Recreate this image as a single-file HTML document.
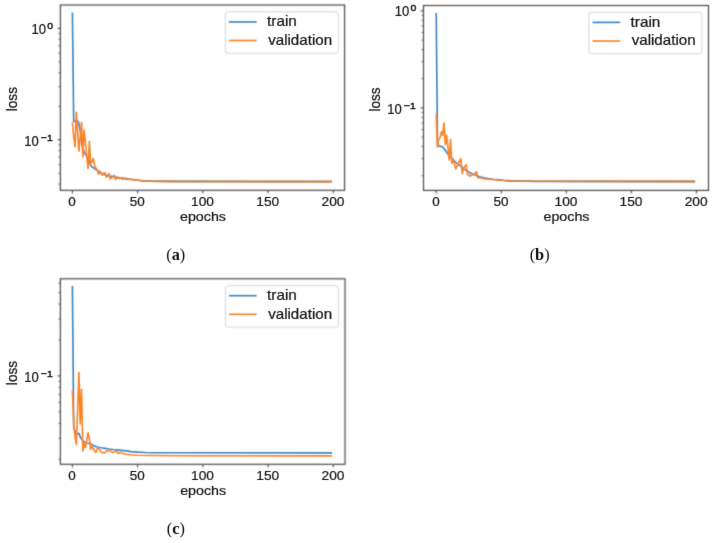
<!DOCTYPE html>
<html><head><meta charset="utf-8"><title>Loss curves</title><style>html,body{margin:0;padding:0;background:#fff;}body{width:714px;height:543px;position:relative;overflow:hidden;font-family:"Liberation Sans", sans-serif;}</style></head><body>
<svg width="714" height="543" viewBox="0 0 714 543" style="position:absolute;left:0;top:0" font-family='"Liberation Sans", sans-serif' fill="#1a1a1a"><style>text{stroke:#1a1a1a;stroke-width:0.24px;}</style><defs><filter id="bl" x="0" y="0" width="714" height="543" filterUnits="userSpaceOnUse"><feConvolveMatrix order="3" kernelMatrix="0.0400 0.1200 0.0400 0.1200 0.3600 0.1200 0.0400 0.1200 0.0400" edgeMode="none" preserveAlpha="false"/></filter><filter id="bc" x="0" y="0" width="714" height="543" filterUnits="userSpaceOnUse"><feConvolveMatrix order="3" kernelMatrix="0.0196 0.1008 0.0196 0.1008 0.5184 0.1008 0.0196 0.1008 0.0196" edgeMode="none" preserveAlpha="false"/></filter><filter id="bt" x="0" y="0" width="714" height="543" filterUnits="userSpaceOnUse"><feConvolveMatrix order="3" kernelMatrix="0.0036 0.0528 0.0036 0.0528 0.7744 0.0528 0.0036 0.0528 0.0036" edgeMode="none" preserveAlpha="false"/></filter></defs><g filter="url(#bc)"><clipPath id="clip60_5"><rect x="60.4" y="5" width="284.2" height="185.3"/></clipPath><g clip-path="url(#clip60_5)"><polyline points="72.4,12.6 73.7,121.6 75.01,121.2 76.31,120.7 77.62,120.6 78.92,123.5 80.23,131 81.53,141 82.84,148 84.14,151.8 85.45,154.5 86.75,156.2 88.05,158.5 89.36,162.5 90.66,165.5 91.97,167 93.27,167.6 94.58,168.6 95.88,169.5 97.19,170.3 98.49,171.2 101.1,172.8 103.71,174.2 106.32,175.2 108.93,175.9 111.53,176.4 114.14,176.9 118.06,177.5 124.58,178.4 131.1,179.4 136.32,180 142.84,180.8 150.67,181.1 163.72,181.3 176.76,181.4 332,181.5" fill="none" stroke="#3a86c3" stroke-width="1.65" stroke-linejoin="round" stroke-linecap="butt"/><polyline points="72.4,122.4 73.7,137 75.01,146.8 76.31,112.3 77.62,132 78.92,151.1 80.23,137 81.53,122.4 82.84,156.8 84.14,130 85.45,143 86.75,156 88.05,168.4 89.36,141.6 90.66,163.8 91.97,161.5 93.27,158.4 94.58,166 95.88,168 97.19,169.7 98.49,174.1 99.79,171.2 101.1,173.5 102.4,175.2 103.71,174 105.01,172.6 106.32,177.4 107.62,175.5 108.93,173.7 110.23,178.9 111.53,177.5 112.84,176.6 114.14,175.2 115.45,179.3 116.75,178.4 118.06,178 119.36,178.6 120.67,177.8 121.97,179.2 123.28,178.5 124.58,179 127.19,179.4 129.8,179 132.41,179.8 135.02,180.2 137.62,180.3 142.84,180.9 150.67,181.2 163.72,181.4 176.76,181.5 332,181.6" fill="none" stroke="#fa8425" stroke-width="1.65" stroke-linejoin="round" stroke-linecap="butt"/><polyline points="141.54,180.75 142.84,180.9 150.67,181.2 163.72,181.4 176.76,181.5 332,181.6" fill="none" stroke="#c38851" stroke-width="1.65" stroke-linejoin="round" stroke-linecap="butt"/></g><clipPath id="clip423_5"><rect x="423.5" y="5.5" width="285" height="184.9"/></clipPath><g clip-path="url(#clip423_5)"><polyline points="436.2,13 437.5,144.5 438.8,145.3 440.1,146.5 441.4,146.3 442.7,147 444.01,148.4 445.31,150.2 446.61,152.2 447.91,154.2 449.21,155.9 450.51,157.3 451.81,158.5 453.11,159.7 454.41,161 455.71,162.3 457.02,163.4 458.32,164.3 459.62,165.2 460.92,166.1 463.52,168.6 466.12,170.4 468.72,172 471.33,173.4 473.93,174.6 476.53,175.6 479.13,176.5 481.74,177.2 485.64,178 489.54,178.7 493.44,179.2 498.65,179.7 503.85,180.2 511.66,180.7 519.46,181 533.77,181.4 695.1,181.6" fill="none" stroke="#3a86c3" stroke-width="1.65" stroke-linejoin="round" stroke-linecap="butt"/><polyline points="436.2,114.2 437.5,147.2 438.8,139.2 440.1,137.5 441.4,131.8 442.7,135.3 444.01,123 445.31,144.6 446.61,135.3 447.91,147.5 449.21,160 450.51,139.6 451.81,163.3 453.11,158.7 454.41,163.8 455.71,168.8 457.02,166 458.32,163.5 459.62,161 460.92,158.7 462.22,173.4 463.52,169 464.82,166.2 466.12,164.8 467.42,174.5 468.72,175 470.03,176 471.33,175.4 472.63,174.8 473.93,173.8 475.23,172.8 476.53,171.8 477.83,177.7 479.13,177.5 481.74,178.3 485.64,179 489.54,179.3 494.75,179.8 499.95,180.3 505.15,180.7 511.66,180.9 519.46,181.1 533.77,181.3 695.1,181.4" fill="none" stroke="#fa8425" stroke-width="1.65" stroke-linejoin="round" stroke-linecap="butt"/><polyline points="505.15,180.7 511.66,180.9 519.46,181.1 533.77,181.3 695.1,181.4" fill="none" stroke="#c38851" stroke-width="1.65" stroke-linejoin="round" stroke-linecap="butt"/></g><clipPath id="clip60_278"><rect x="60.4" y="278.8" width="284.6" height="185.5"/></clipPath><g clip-path="url(#clip60_278)"><polyline points="72.4,285.9 73.7,427 75.01,431.5 76.31,434 77.62,434 78.92,433.3 80.23,437 81.53,439 82.84,440.6 84.14,441.9 85.45,442.5 86.75,443 88.05,443.3 89.36,443.6 90.66,443.9 91.97,444.6 93.27,445.5 94.58,446.1 97.19,447 101.1,447.8 105.01,448.4 108.93,449 112.84,449.5 119.36,450.1 125.88,450.9 131.1,451.6 137.62,452.1 145.45,452.5 153.28,452.7 332,452.9" fill="none" stroke="#3a86c3" stroke-width="1.65" stroke-linejoin="round" stroke-linecap="butt"/><polyline points="72.4,390.3 73.7,424 75.01,436 76.31,444.5 77.62,410 78.92,372.6 80.23,424 81.53,389.4 82.84,451 84.14,443.5 85.45,447.5 86.75,440 88.05,432.8 89.36,438.5 90.66,449.5 91.97,446.5 93.27,448.5 94.58,451 95.88,452.4 97.19,449 98.49,447.9 99.79,449.8 101.1,451.6 102.4,452.6 103.71,453 105.01,452.4 106.32,451.3 107.62,450.5 108.93,450.4 110.23,451 111.53,451.8 112.84,452.5 114.14,452 116.75,451.3 118.06,453.2 119.36,452.8 120.67,452.4 121.97,453 125.88,454.2 131.1,454.8 137.62,455.2 150.67,455.5 176.76,455.7 332,455.8" fill="none" stroke="#fa8425" stroke-width="1.65" stroke-linejoin="round" stroke-linecap="butt"/></g></g><g filter="url(#bl)"><line x1="58.5" y1="184.13" x2="60.4" y2="184.13" stroke="#383838" stroke-width="0.75"/><line x1="58.5" y1="173.33" x2="60.4" y2="173.33" stroke="#383838" stroke-width="0.75"/><line x1="58.5" y1="164.51" x2="60.4" y2="164.51" stroke="#383838" stroke-width="0.75"/><line x1="58.5" y1="157.06" x2="60.4" y2="157.06" stroke="#383838" stroke-width="0.75"/><line x1="58.5" y1="150.6" x2="60.4" y2="150.6" stroke="#383838" stroke-width="0.75"/><line x1="58.5" y1="144.9" x2="60.4" y2="144.9" stroke="#383838" stroke-width="0.75"/><line x1="58.5" y1="106.27" x2="60.4" y2="106.27" stroke="#383838" stroke-width="0.75"/><line x1="58.5" y1="86.65" x2="60.4" y2="86.65" stroke="#383838" stroke-width="0.75"/><line x1="58.5" y1="72.73" x2="60.4" y2="72.73" stroke="#383838" stroke-width="0.75"/><line x1="58.5" y1="61.93" x2="60.4" y2="61.93" stroke="#383838" stroke-width="0.75"/><line x1="58.5" y1="53.11" x2="60.4" y2="53.11" stroke="#383838" stroke-width="0.75"/><line x1="58.5" y1="45.66" x2="60.4" y2="45.66" stroke="#383838" stroke-width="0.75"/><line x1="58.5" y1="39.2" x2="60.4" y2="39.2" stroke="#383838" stroke-width="0.75"/><line x1="58.5" y1="33.5" x2="60.4" y2="33.5" stroke="#383838" stroke-width="0.75"/><line x1="57.5" y1="139.8" x2="60.4" y2="139.8" stroke="#383838" stroke-width="1"/><line x1="57.5" y1="28.4" x2="60.4" y2="28.4" stroke="#383838" stroke-width="1"/><line x1="72.4" y1="190.3" x2="72.4" y2="193.4" stroke="#383838" stroke-width="1"/><line x1="137.62" y1="190.3" x2="137.62" y2="193.4" stroke="#383838" stroke-width="1"/><line x1="202.85" y1="190.3" x2="202.85" y2="193.4" stroke="#383838" stroke-width="1"/><line x1="268.08" y1="190.3" x2="268.08" y2="193.4" stroke="#383838" stroke-width="1"/><line x1="333.3" y1="190.3" x2="333.3" y2="193.4" stroke="#383838" stroke-width="1"/><rect x="225.4" y="11.8" width="113" height="41.5" rx="2.5" ry="2.5" fill="#fff" stroke="#d4d4d4" stroke-width="1"/><rect x="60.4" y="5" width="284.2" height="185.3" fill="none" stroke="#383838" stroke-width="1.1"/><line x1="421.6" y1="175.75" x2="423.5" y2="175.75" stroke="#383838" stroke-width="0.75"/><line x1="421.6" y1="158.67" x2="423.5" y2="158.67" stroke="#383838" stroke-width="0.75"/><line x1="421.6" y1="146.55" x2="423.5" y2="146.55" stroke="#383838" stroke-width="0.75"/><line x1="421.6" y1="137.15" x2="423.5" y2="137.15" stroke="#383838" stroke-width="0.75"/><line x1="421.6" y1="129.47" x2="423.5" y2="129.47" stroke="#383838" stroke-width="0.75"/><line x1="421.6" y1="122.98" x2="423.5" y2="122.98" stroke="#383838" stroke-width="0.75"/><line x1="421.6" y1="117.35" x2="423.5" y2="117.35" stroke="#383838" stroke-width="0.75"/><line x1="421.6" y1="112.39" x2="423.5" y2="112.39" stroke="#383838" stroke-width="0.75"/><line x1="421.6" y1="78.75" x2="423.5" y2="78.75" stroke="#383838" stroke-width="0.75"/><line x1="421.6" y1="61.67" x2="423.5" y2="61.67" stroke="#383838" stroke-width="0.75"/><line x1="421.6" y1="49.55" x2="423.5" y2="49.55" stroke="#383838" stroke-width="0.75"/><line x1="421.6" y1="40.15" x2="423.5" y2="40.15" stroke="#383838" stroke-width="0.75"/><line x1="421.6" y1="32.47" x2="423.5" y2="32.47" stroke="#383838" stroke-width="0.75"/><line x1="421.6" y1="25.98" x2="423.5" y2="25.98" stroke="#383838" stroke-width="0.75"/><line x1="421.6" y1="20.35" x2="423.5" y2="20.35" stroke="#383838" stroke-width="0.75"/><line x1="421.6" y1="15.39" x2="423.5" y2="15.39" stroke="#383838" stroke-width="0.75"/><line x1="420.6" y1="107.95" x2="423.5" y2="107.95" stroke="#383838" stroke-width="1"/><line x1="420.6" y1="10.95" x2="423.5" y2="10.95" stroke="#383838" stroke-width="1"/><line x1="436.2" y1="190.4" x2="436.2" y2="193.5" stroke="#383838" stroke-width="1"/><line x1="501.25" y1="190.4" x2="501.25" y2="193.5" stroke="#383838" stroke-width="1"/><line x1="566.3" y1="190.4" x2="566.3" y2="193.5" stroke="#383838" stroke-width="1"/><line x1="631.35" y1="190.4" x2="631.35" y2="193.5" stroke="#383838" stroke-width="1"/><line x1="696.4" y1="190.4" x2="696.4" y2="193.5" stroke="#383838" stroke-width="1"/><rect x="588.9" y="12.3" width="113" height="41.5" rx="2.5" ry="2.5" fill="#fff" stroke="#d4d4d4" stroke-width="1"/><rect x="423.5" y="5.5" width="285" height="184.9" fill="none" stroke="#383838" stroke-width="1.1"/><line x1="58.5" y1="459.27" x2="60.4" y2="459.27" stroke="#383838" stroke-width="0.75"/><line x1="58.5" y1="438.27" x2="60.4" y2="438.27" stroke="#383838" stroke-width="0.75"/><line x1="58.5" y1="423.37" x2="60.4" y2="423.37" stroke="#383838" stroke-width="0.75"/><line x1="58.5" y1="411.81" x2="60.4" y2="411.81" stroke="#383838" stroke-width="0.75"/><line x1="58.5" y1="402.37" x2="60.4" y2="402.37" stroke="#383838" stroke-width="0.75"/><line x1="58.5" y1="394.38" x2="60.4" y2="394.38" stroke="#383838" stroke-width="0.75"/><line x1="58.5" y1="387.47" x2="60.4" y2="387.47" stroke="#383838" stroke-width="0.75"/><line x1="58.5" y1="381.37" x2="60.4" y2="381.37" stroke="#383838" stroke-width="0.75"/><line x1="58.5" y1="340.01" x2="60.4" y2="340.01" stroke="#383838" stroke-width="0.75"/><line x1="58.5" y1="319.01" x2="60.4" y2="319.01" stroke="#383838" stroke-width="0.75"/><line x1="58.5" y1="304.11" x2="60.4" y2="304.11" stroke="#383838" stroke-width="0.75"/><line x1="58.5" y1="292.55" x2="60.4" y2="292.55" stroke="#383838" stroke-width="0.75"/><line x1="58.5" y1="283.11" x2="60.4" y2="283.11" stroke="#383838" stroke-width="0.75"/><line x1="57.5" y1="375.91" x2="60.4" y2="375.91" stroke="#383838" stroke-width="1"/><line x1="72.4" y1="464.3" x2="72.4" y2="467.4" stroke="#383838" stroke-width="1"/><line x1="137.62" y1="464.3" x2="137.62" y2="467.4" stroke="#383838" stroke-width="1"/><line x1="202.85" y1="464.3" x2="202.85" y2="467.4" stroke="#383838" stroke-width="1"/><line x1="268.08" y1="464.3" x2="268.08" y2="467.4" stroke="#383838" stroke-width="1"/><line x1="333.3" y1="464.3" x2="333.3" y2="467.4" stroke="#383838" stroke-width="1"/><rect x="225.4" y="285.6" width="113" height="41.5" rx="2.5" ry="2.5" fill="#fff" stroke="#d4d4d4" stroke-width="1"/><rect x="60.4" y="278.8" width="284.6" height="185.5" fill="none" stroke="#383838" stroke-width="1.1"/></g><g filter="url(#bc)"><line x1="229" y1="21.9" x2="256.6" y2="21.9" stroke="#3a86c3" stroke-width="1.65"/><line x1="229" y1="40.5" x2="256.6" y2="40.5" stroke="#fa8425" stroke-width="1.65"/><line x1="592.5" y1="22.4" x2="620.1" y2="22.4" stroke="#3a86c3" stroke-width="1.65"/><line x1="592.5" y1="41" x2="620.1" y2="41" stroke="#fa8425" stroke-width="1.65"/><line x1="229" y1="295.7" x2="256.6" y2="295.7" stroke="#3a86c3" stroke-width="1.65"/><line x1="229" y1="314.3" x2="256.6" y2="314.3" stroke="#fa8425" stroke-width="1.65"/></g><g filter="url(#bt)"><text x="31.6" y="33.8" font-size="13.8" text-anchor="start" textLength="14.5" lengthAdjust="spacingAndGlyphs">10</text><text x="47.3" y="28.7" font-size="9.8" text-anchor="start" textLength="5.9" lengthAdjust="spacingAndGlyphs" style="stroke-width:0.45px">0</text><text x="24.2" y="145.85" font-size="13.8" text-anchor="start" textLength="14.5" lengthAdjust="spacingAndGlyphs">10</text><text x="40.9" y="140.55" font-size="9.8" text-anchor="start" textLength="11.8" lengthAdjust="spacingAndGlyphs" style="stroke-width:0.45px">−1</text><text x="72.1" y="206.2" font-size="13.4" text-anchor="middle" textLength="7.5" lengthAdjust="spacingAndGlyphs">0</text><text x="137.32" y="206.2" font-size="13.4" text-anchor="middle" textLength="15" lengthAdjust="spacingAndGlyphs">50</text><text x="202.55" y="206.2" font-size="13.4" text-anchor="middle" textLength="22.9" lengthAdjust="spacingAndGlyphs">100</text><text x="267.78" y="206.2" font-size="13.4" text-anchor="middle" textLength="22.9" lengthAdjust="spacingAndGlyphs">150</text><text x="333" y="206.2" font-size="13.4" text-anchor="middle" textLength="22.9" lengthAdjust="spacingAndGlyphs">200</text><text x="203" y="220.7" font-size="13.7" text-anchor="middle" textLength="46" lengthAdjust="spacingAndGlyphs">epochs</text><text x="0" y="0" font-size="13.8" text-anchor="middle" textLength="24.2" lengthAdjust="spacingAndGlyphs" transform="translate(17.2,99.15) rotate(-90)">loss</text><text x="267.1" y="26.2" font-size="13.9" text-anchor="start" textLength="29.8" lengthAdjust="spacingAndGlyphs">train</text><text x="268.2" y="44.8" font-size="13.9" text-anchor="start" textLength="63.9" lengthAdjust="spacingAndGlyphs">validation</text><text x="394.7" y="16.35" font-size="13.8" text-anchor="start" textLength="14.5" lengthAdjust="spacingAndGlyphs">10</text><text x="410.4" y="11.25" font-size="9.8" text-anchor="start" textLength="5.9" lengthAdjust="spacingAndGlyphs" style="stroke-width:0.45px">0</text><text x="387.3" y="114" font-size="13.8" text-anchor="start" textLength="14.5" lengthAdjust="spacingAndGlyphs">10</text><text x="404" y="108.7" font-size="9.8" text-anchor="start" textLength="11.8" lengthAdjust="spacingAndGlyphs" style="stroke-width:0.45px">−1</text><text x="435.9" y="206.3" font-size="13.4" text-anchor="middle" textLength="7.5" lengthAdjust="spacingAndGlyphs">0</text><text x="500.95" y="206.3" font-size="13.4" text-anchor="middle" textLength="15" lengthAdjust="spacingAndGlyphs">50</text><text x="566" y="206.3" font-size="13.4" text-anchor="middle" textLength="22.9" lengthAdjust="spacingAndGlyphs">100</text><text x="631.05" y="206.3" font-size="13.4" text-anchor="middle" textLength="22.9" lengthAdjust="spacingAndGlyphs">150</text><text x="696.1" y="206.3" font-size="13.4" text-anchor="middle" textLength="22.9" lengthAdjust="spacingAndGlyphs">200</text><text x="566.5" y="220.8" font-size="13.7" text-anchor="middle" textLength="46" lengthAdjust="spacingAndGlyphs">epochs</text><text x="0" y="0" font-size="13.8" text-anchor="middle" textLength="24.2" lengthAdjust="spacingAndGlyphs" transform="translate(380.3,99.45) rotate(-90)">loss</text><text x="630.6" y="26.7" font-size="13.9" text-anchor="start" textLength="29.8" lengthAdjust="spacingAndGlyphs">train</text><text x="631.7" y="45.3" font-size="13.9" text-anchor="start" textLength="63.9" lengthAdjust="spacingAndGlyphs">validation</text><text x="24.2" y="381.96" font-size="13.8" text-anchor="start" textLength="14.5" lengthAdjust="spacingAndGlyphs">10</text><text x="40.9" y="376.66" font-size="9.8" text-anchor="start" textLength="11.8" lengthAdjust="spacingAndGlyphs" style="stroke-width:0.45px">−1</text><text x="72.1" y="480.2" font-size="13.4" text-anchor="middle" textLength="7.5" lengthAdjust="spacingAndGlyphs">0</text><text x="137.32" y="480.2" font-size="13.4" text-anchor="middle" textLength="15" lengthAdjust="spacingAndGlyphs">50</text><text x="202.55" y="480.2" font-size="13.4" text-anchor="middle" textLength="22.9" lengthAdjust="spacingAndGlyphs">100</text><text x="267.78" y="480.2" font-size="13.4" text-anchor="middle" textLength="22.9" lengthAdjust="spacingAndGlyphs">150</text><text x="333" y="480.2" font-size="13.4" text-anchor="middle" textLength="22.9" lengthAdjust="spacingAndGlyphs">200</text><text x="203.2" y="494.7" font-size="13.7" text-anchor="middle" textLength="46" lengthAdjust="spacingAndGlyphs">epochs</text><text x="0" y="0" font-size="13.8" text-anchor="middle" textLength="24.2" lengthAdjust="spacingAndGlyphs" transform="translate(17.2,373.05) rotate(-90)">loss</text><text x="267.1" y="300" font-size="13.9" text-anchor="start" textLength="29.8" lengthAdjust="spacingAndGlyphs">train</text><text x="268.2" y="318.6" font-size="13.9" text-anchor="start" textLength="63.9" lengthAdjust="spacingAndGlyphs">validation</text><text x="175.7" y="260.4" font-size="16.3" text-anchor="middle" font-family='"Liberation Serif", serif' fill="#111" style="stroke:none">(<tspan font-weight="bold">a</tspan>)</text><text x="539.6" y="260.4" font-size="16.3" text-anchor="middle" font-family='"Liberation Serif", serif' fill="#111" style="stroke:none">(<tspan font-weight="bold">b</tspan>)</text><text x="175.9" y="534.2" font-size="16.3" text-anchor="middle" font-family='"Liberation Serif", serif' fill="#111" style="stroke:none">(<tspan font-weight="bold">c</tspan>)</text></g></svg>
</body></html>
